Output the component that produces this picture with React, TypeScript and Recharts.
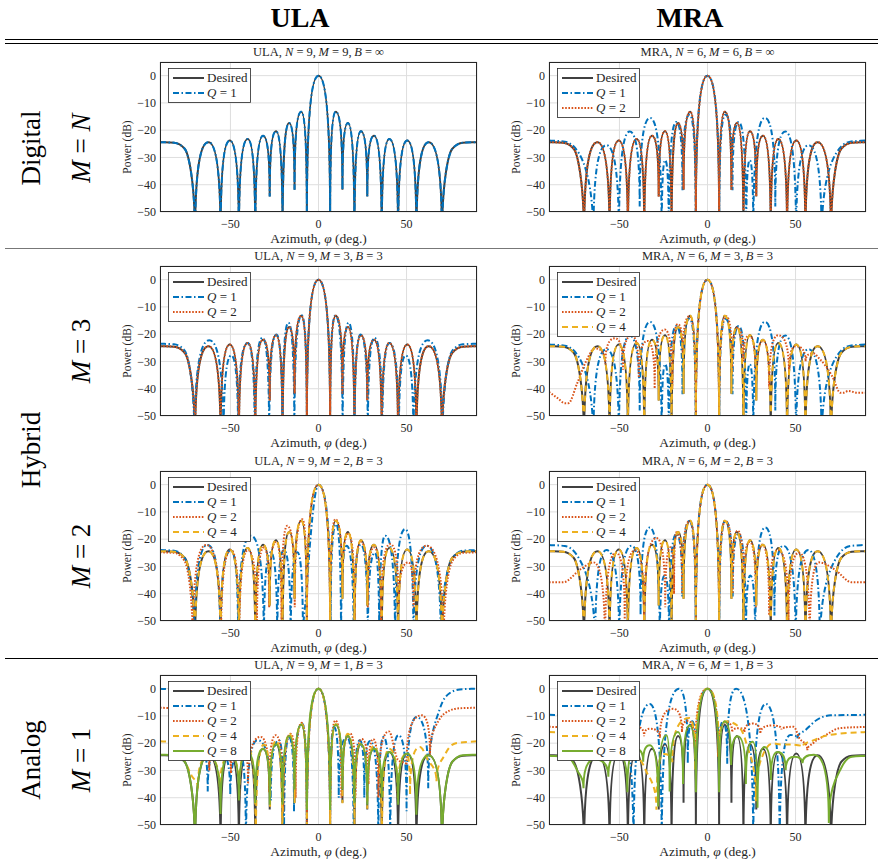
import React from "react";
import { LineChart, Line, XAxis, YAxis, CartesianGrid } from "recharts";

// beam patterns: azimuth (deg) / power (dB); nulls and lobe peaks
type Pt = [number, number];

const X_TICKS = [-50, 0, 50];
const Y_TICKS = [-50, -40, -30, -20, -10, 0];

const DESIRED: Pt[] = [
  [-90, -24.4], [-82, -24.6], [-76, -26.8], [-70.1, -60], [-62.5, -24.4], [-55.6, -60],
  [-50.4, -23.8], [-45.2, -60], [-40.2, -23.2], [-35.9, -60], [-31.5, -22], [-27.7, -44.3],
  [-24.1, -20.4], [-20.4, -60], [-16.7, -17.4], [-13.6, -41.8], [-9.8, -13.2], [-6.6, -52],
  [0, 0],
  [6.6, -52], [9.8, -13.2], [13.6, -41.8], [16.7, -17.4], [20.4, -60], [24.1, -20.4],
  [27.7, -44.3], [31.5, -22], [35.9, -60], [40.2, -23.2], [45.2, -60], [50.4, -23.8],
  [55.6, -60], [62.5, -24.4], [70.1, -60], [76, -26.8], [82, -24.6], [90, -24.4],
];

const MRA_M6_Q1: Pt[] = [
  [-90, -23.8], [-81, -24.2], [-73, -28.5], [-64.8, -60], [-57.4, -25.5], [-50.3, -60],
  [-44.2, -20.5], [-38.5, -48], [-32.6, -15.5], [-26, -60], [-24, -31], [-22, -60],
  [-17.7, -17], [-14.2, -42], [-10.2, -14.3], [-6.7, -52],
  [0, 0],
  [6.7, -52], [10.2, -14.3], [14.2, -42], [17.7, -17], [22, -60], [24, -31], [26, -60],
  [32.6, -15.5], [38.5, -48], [44.2, -20.5], [50.3, -60], [57.4, -25.5], [64.8, -60],
  [73, -28.5], [81, -24.2], [90, -23.8],
];

const ULA_M3_Q1: Pt[] = [
  [-90, -23.5], [-82, -23.7], [-76, -26], [-70.4, -60], [-62, -22.2], [-53.9, -60],
  [-49.5, -27.8], [-45.6, -60], [-40.3, -23.2], [-36.2, -60], [-31.8, -21.3], [-28, -60],
  [-23.9, -20.1], [-20.5, -60], [-17.1, -15.8], [-13.7, -60], [-9.6, -13.1], [-6.6, -52],
  [0, 0],
  [6.6, -52], [9.6, -13.1], [13.7, -60], [17.1, -15.8], [20.5, -60], [23.9, -20.1],
  [28, -60], [31.8, -21.3], [36.2, -60], [40.3, -23.2], [45.6, -60], [49.5, -27.8],
  [53.9, -60], [62, -22.2], [70.4, -60], [76, -26], [82, -23.7], [90, -23.5],
];

const MRA_M3_Q2: Pt[] = [
  [-90, -41.2], [-85, -43.5], [-81, -45.3], [-79, -45.3], [-74, -38], [-69, -30],
  [-64, -25.2], [-58, -31], [-52.5, -21.5], [-48, -33], [-43, -20.5], [-39, -36],
  [-34, -22.5], [-30, -40], [-24.3, -18.3], [-20, -40], [-16.8, -16.3], [-14, -29],
  [-10.2, -13.4], [-6.6, -52],
  [0, 0],
  [6.6, -52], [10.5, -13.4], [14, -34], [17, -17.7], [20.3, -30], [23.7, -20.5],
  [27.5, -40], [31.6, -22.5], [35, -40], [40.2, -20.4], [46.3, -34.7], [50.1, -24.4],
  [55.7, -30], [60, -27], [63.3, -28.8], [70.8, -35.4], [75.5, -41.5], [77, -41.5],
  [80, -40.8], [85, -41.5], [90, -41.5],
];

const ULA_M2_Q1: Pt[] = [
  [-90, -24], [-82, -24.2], [-76, -27], [-70.4, -60], [-63, -22.1], [-55.7, -60],
  [-49.7, -24], [-45.6, -60], [-38.4, -18.7], [-31, -60], [-27.1, -24.8], [-23.4, -60],
  [-19.6, -24], [-15.8, -60], [-12, -24.8], [-8.8, -60], [-6.9, -40],
  [0, 0],
  [6.9, -52], [10, -14.5], [12.8, -60], [16, -22.4], [20, -60], [24, -22], [28, -60],
  [32, -25], [34.5, -60], [37.9, -18.7], [43.5, -60], [49.2, -16.3], [53.9, -60],
  [61.4, -22.4], [69.5, -60], [76, -27], [82, -24.2], [90, -24],
];

const ULA_M2_Q2: Pt[] = [
  [-90, -24.8], [-82, -25], [-76, -28], [-71.4, -60], [-63.8, -22.1], [-55.4, -60],
  [-49.7, -24], [-45, -60], [-40, -24], [-35, -55], [-31, -23], [-28, -45], [-24, -21],
  [-21, -50], [-17.7, -15.1], [-13.5, -45], [-9.2, -12.7], [-6.6, -52],
  [0, 0],
  [6.6, -52], [9.6, -12.7], [13.5, -40], [17, -18], [20.5, -50], [24, -21], [28, -45],
  [31.5, -23], [35.5, -50], [40.7, -21.8], [45.5, -45], [51, -28.5], [54, -45],
  [61.4, -22.4], [71, -60], [76, -28], [82, -25], [90, -24.8],
];

const MRA_M2_Q1: Pt[] = [
  [-90, -22.1], [-81, -22.5], [-73, -27], [-63.8, -60], [-57.3, -24], [-50.1, -60],
  [-43.1, -22.4], [-38, -48], [-32.8, -15.7], [-27.1, -60], [-24.3, -33.3], [-21.8, -60],
  [-17.7, -18.1], [-14.3, -41], [-10.2, -13.3], [-6.7, -52],
  [0, 0],
  [6.7, -52], [10.2, -13.3], [14.3, -41], [17.7, -18.1], [21.8, -60], [24.3, -33.3],
  [27.1, -60], [32.8, -15.7], [38, -48], [43.1, -22.4], [50.1, -60], [57.3, -24],
  [63.8, -60], [73, -27], [81, -22.5], [90, -22.1],
];

const MRA_M2_Q2: Pt[] = [
  [-90, -35.8], [-82, -35.8], [-72, -31], [-64.8, -28.5], [-58.2, -60], [-52, -25],
  [-47, -50], [-41, -24], [-36, -50], [-29, -19.6], [-24, -45], [-21, -23], [-19, -40],
  [-17.7, -17.5], [-14.3, -40], [-10.2, -13.3], [-6.6, -52],
  [0, 0],
  [6.6, -52], [10.2, -13.3], [14.3, -40], [17.1, -16.9], [20.5, -40], [24, -21],
  [27.5, -45], [31, -22], [35, -48], [40, -24], [46, -50], [52, -25], [58, -60],
  [63.3, -28.5], [72, -31], [82, -35.8], [90, -35.8],
];

const ULA_M1_Q1: Pt[] = [
  [-90, 0], [-82, -0.5], [-75, -3.5], [-69, -12], [-62.9, -37.7], [-57, -22], [-50.1, -39],
  [-44.4, -24], [-41.2, -60], [-34.7, -18.9], [-27.1, -41], [-22.4, -18.9], [-19.6, -60],
  [-16.8, -17.7], [-13.9, -45], [-9.2, -12.9], [-6.6, -52],
  [0, 0],
  [6.6, -52], [8.7, -14], [11.5, -40], [16.2, -17.7], [20, -60], [23.4, -18.9], [26, -40],
  [29.4, -19.2], [34, -60], [36.9, -17.7], [40.7, -60], [45.4, -17.1], [50, -45],
  [55.7, -10.4], [62.3, -36.5], [68.9, -7.4], [74.6, -1.6], [80.2, -0.3], [90, 0],
];

const ULA_M1_Q2: Pt[] = [
  [-90, -7], [-84, -7.2], [-78, -9], [-72, -13], [-66, -20], [-62, -30], [-56, -19],
  [-49.7, -31], [-44, -19.5], [-40, -35], [-32.8, -17.7], [-28, -38], [-24.3, -17.1],
  [-20, -45], [-15.8, -16.5], [-13, -40], [-9.5, -12.5], [-6.6, -52],
  [0, 0],
  [6.6, -52], [9.6, -11.7], [13, -40], [18, -16.5], [21, -40], [24.5, -18.5], [28.4, -35],
  [31, -18.5], [34, -40], [40, -15.7], [45, -26], [50, -28], [58.6, -9.8], [63.3, -24.4],
  [68, -12], [74.6, -8], [80, -7.2], [90, -7],
];

const ULA_M1_Q4: Pt[] = [
  [-90, -19.3], [-84, -19.5], [-78, -24], [-72, -32], [-68.5, -36.5], [-63, -25],
  [-56, -38], [-50, -24.5], [-45, -40], [-40, -22], [-35.6, -60], [-31, -20.5],
  [-27.5, -44], [-24, -19], [-20.5, -60], [-16.5, -16.5], [-13.6, -42], [-9.6, -13],
  [-6.6, -52],
  [0, 0],
  [6.6, -52], [9.8, -13], [13.6, -42], [16.7, -16.5], [20.4, -55], [24, -20], [27.7, -44],
  [31.5, -21], [36, -60], [40, -22], [45, -40], [50, -24], [52, -39], [57.6, -21.4],
  [62, -26], [67, -34.1], [72, -24], [78, -20], [90, -19.3],
];

const ULA_M1_Q8: Pt[] = [
  [-90, -24.2], [-82, -24.4], [-76, -26.8], [-70.1, -60], [-62.5, -24.4], [-55.6, -46],
  [-50.4, -23.8], [-45.2, -41], [-40.2, -23.2], [-35.9, -42], [-31.5, -22], [-27.7, -42.6],
  [-24.1, -20.4], [-20.4, -42.6], [-16.7, -17.4], [-13.6, -37], [-9.8, -13.2], [-6.6, -44.5],
  [0, 0],
  [6.6, -44.5], [9.8, -13.2], [13.6, -37], [16.7, -17.4], [20.4, -42], [24.1, -20.4],
  [27.7, -42.6], [31.5, -22], [35.9, -40], [40.2, -23.2], [45.2, -42.6], [50.4, -23.8],
  [55.6, -46.2], [62.5, -24.4], [70.1, -60], [76, -26.8], [82, -24.4], [90, -24.2],
];

const MRA_M1_Q1: Pt[] = [
  [-90, -9.6], [-80, -9.8], [-70, -12], [-60, -14], [-52, -16.5], [-46.5, -17], [-42, -60],
  [-32.8, -5.6], [-26, -60], [-16.2, 0], [-11.2, -27.5], [-8.7, -12], [-6.5, -30],
  [0, 0],
  [6.5, -30], [8.7, -12], [11.2, -27.5], [16.2, 0], [26, -60], [33.1, -5.6], [41, -60],
  [47, -17], [51, -18.3], [56, -15], [62, -11.5], [70, -9.8], [90, -9.6],
];

const MRA_M1_Q2: Pt[] = [
  [-90, -14], [-75, -14.2], [-60, -14.5], [-46, -17.5], [-40.3, -14], [-36, -17.5],
  [-32.8, -14.7], [-27, -18], [-19.6, -7.4], [-14.5, -16], [-11, -11.8], [-7, -25],
  [0, 0],
  [6, -25], [10.5, -12.3], [14, -16], [18, -14.5], [21, -16], [25.6, -12.8], [30, -16.5],
  [37, -13.5], [42, -15], [49, -14], [52, -18], [56.7, -22.6], [60, -20], [67, -17.1],
  [75, -14.5], [90, -14],
];

const MRA_M1_Q4: Pt[] = [
  [-90, -15.9], [-75, -16.2], [-60, -17], [-45, -22], [-35, -30], [-29, -44.4], [-25, -24],
  [-20, -27], [-10.2, -10.8], [-7, -30],
  [0, 0],
  [6.5, -25], [10.5, -12], [18, -14.1], [22, -20], [27.5, -41.3], [31, -25], [37, -20.1],
  [42, -20.5], [48, -20.5], [54, -21.4], [60, -19], [65, -17.7], [75, -16.5], [90, -15.9],
];

const MRA_M1_Q8: Pt[] = [
  [-90, -24.6], [-80, -25], [-74, -30], [-70.4, -36.5], [-64, -26], [-56.3, -32.3],
  [-50.5, -24], [-45.5, -38], [-41, -22], [-36.5, -26.8], [-32.8, -20.8], [-28, -43.2],
  [-23.3, -17.1], [-21.5, -37.7], [-16.8, -15.9], [-13.9, -35], [-10.2, -13.5], [-6.6, -38],
  [0, 0],
  [6.6, -38], [9.6, -12], [13.4, -28], [17.1, -17.5], [21.8, -35], [25.6, -19.5],
  [28.4, -43.7], [32.2, -21.4], [36, -33.5], [39.7, -23.2], [44.4, -29.9], [49.2, -25],
  [53.9, -27.4], [60.5, -24.2], [68.9, -49.3], [76, -29], [82, -25], [90, -24.6],
];

const FONT = '"Liberation Serif", "Times New Roman", serif';
const INK = "#262626";

const STYLE: Record<string, { stroke: string; dash?: string }> = {
  Desired: { stroke: "#404040" },
  Q1: { stroke: "#0072BD", dash: "6 2.5 1.5 2.5" },
  Q2: { stroke: "#D95319", dash: "1.6 1.6" },
  Q4: { stroke: "#EDB120", dash: "6 4" },
  Q8: { stroke: "#77AC30" },
};

const PLOT_W = 317;
const PLOT_H = 150;
const PAD_L = 50;
const PAD_T = 4;
const PAD_B = 22;
const LW = 2;

const COLS = [160, 549];
const ROWS = [62, 266, 471, 675];

type PanelDef = {
  col: number;
  row: number;
  arr: string;
  n: number;
  m: string;
  b: string;
  lines: [string, Pt[]][];
};

const PANELS: PanelDef[] = [
  { col: 0, row: 0, arr: "ULA", n: 9, m: "9", b: "∞", lines: [["Desired", DESIRED], ["Q1", DESIRED]] },
  { col: 1, row: 0, arr: "MRA", n: 6, m: "6", b: "∞", lines: [["Desired", DESIRED], ["Q1", MRA_M6_Q1], ["Q2", DESIRED]] },
  { col: 0, row: 1, arr: "ULA", n: 9, m: "3", b: "3", lines: [["Desired", DESIRED], ["Q1", ULA_M3_Q1], ["Q2", DESIRED]] },
  { col: 1, row: 1, arr: "MRA", n: 6, m: "3", b: "3", lines: [["Desired", DESIRED], ["Q1", MRA_M6_Q1], ["Q2", MRA_M3_Q2], ["Q4", DESIRED]] },
  { col: 0, row: 2, arr: "ULA", n: 9, m: "2", b: "3", lines: [["Desired", DESIRED], ["Q1", ULA_M2_Q1], ["Q2", ULA_M2_Q2], ["Q4", DESIRED]] },
  { col: 1, row: 2, arr: "MRA", n: 6, m: "2", b: "3", lines: [["Desired", DESIRED], ["Q1", MRA_M2_Q1], ["Q2", MRA_M2_Q2], ["Q4", DESIRED]] },
  { col: 0, row: 3, arr: "ULA", n: 9, m: "1", b: "3", lines: [["Desired", DESIRED], ["Q1", ULA_M1_Q1], ["Q2", ULA_M1_Q2], ["Q4", ULA_M1_Q4], ["Q8", ULA_M1_Q8]] },
  { col: 1, row: 3, arr: "MRA", n: 6, m: "1", b: "3", lines: [["Desired", DESIRED], ["Q1", MRA_M1_Q1], ["Q2", MRA_M1_Q2], ["Q4", MRA_M1_Q4], ["Q8", MRA_M1_Q8]] },
];

// lobe-shaped curve: sharp cusp at nulls, flat top at peaks
function lobeCurve(context: any) {
  let pts: number[][] = [];
  return {
    areaStart() {},
    areaEnd() {},
    lineStart() {
      pts = [];
    },
    lineEnd() {
      const n = pts.length;
      if (!n) return;
      context.moveTo(pts[0][0], pts[0][1]);
      if (n === 1) return;
      const kind: string[] = [];
      const m: number[] = [];
      for (let i = 0; i < n; i++) {
        const [x, y] = pts[i];
        if (i === 0 || i === n - 1) {
          const j = i === 0 ? 1 : n - 2;
          kind.push("mid");
          m.push((pts[j][1] - y) / (pts[j][0] - x));
          continue;
        }
        const [x0, y0] = pts[i - 1];
        const [x2, y2] = pts[i + 1];
        if (y > y0 && y > y2) {
          kind.push("cusp");
          m.push(0);
        } else if (y < y0 && y < y2) {
          kind.push("peak");
          m.push(0);
        } else {
          const h0 = x - x0;
          const h1 = x2 - x;
          const s0 = (y - y0) / h0;
          const s1 = (y2 - y) / h1;
          kind.push("mid");
          if (s0 * s1 <= 0) m.push(0);
          else {
            const p = (s0 * h1 + s1 * h0) / (h0 + h1);
            m.push(Math.sign(s0) * 2 * Math.min(Math.abs(s0), Math.abs(s1), 0.5 * Math.abs(p)));
          }
        }
      }
      for (let i = 0; i < n - 1; i++) {
        const [ax, ay] = pts[i];
        const [bx, by] = pts[i + 1];
        const dx = bx - ax;
        const ka = kind[i];
        const kb = kind[i + 1];
        if (ka === "cusp" && kb === "cusp") {
          context.lineTo(bx, by);
        } else if (ka === "cusp") {
          const f = kb === "peak" ? 2 / 3 : 1 / 3;
          context.bezierCurveTo(ax, ay + (2 / 3) * (by - ay), bx - f * dx, by - f * dx * m[i + 1], bx, by);
        } else if (kb === "cusp") {
          const f = ka === "peak" ? 2 / 3 : 1 / 3;
          context.bezierCurveTo(ax + f * dx, ay + f * dx * m[i], bx, by + (2 / 3) * (ay - by), bx, by);
        } else {
          context.bezierCurveTo(ax + dx / 3, ay + (dx / 3) * m[i], bx - dx / 3, by - (dx / 3) * m[i + 1], bx, by);
        }
      }
    },
    point(x: number, y: number) {
      pts.push([+x, +y]);
    },
  };
}

const fmtTick = (v: number) => (v < 0 ? `\u2212${-v}` : `${v}`);

function qLabel(key: string) {
  if (key === "Desired") return <tspan>Desired</tspan>;
  return (
    <>
      <tspan fontStyle="italic">Q</tspan>
      <tspan> = {key.slice(1)}</tspan>
    </>
  );
}

function LegendBox({ keys }: { keys: string[] }) {
  const h = 5 + 15 * keys.length;
  return (
    <svg width={83} height={h} style={{ position: "absolute", left: 7, top: 5 }}>
      <rect x={0.5} y={0.5} width={82} height={h - 1} fill="#fff" stroke={INK} strokeWidth={0.8} />
      {keys.map((k, i) => {
        const y = 10 + 15 * i;
        const s = STYLE[k];
        return (
          <g key={k}>
            <line x1={5} x2={36} y1={y} y2={y} stroke={s.stroke} strokeWidth={LW} strokeDasharray={s.dash} />
            <text x={39} y={y + 4.4} fontSize={13} fontFamily={FONT} fill={INK}>
              {qLabel(k)}
            </text>
          </g>
        );
      })}
    </svg>
  );
}

function Panel({ p }: { p: PanelDef }) {
  const left = COLS[p.col];
  const top = ROWS[p.row];
  return (
    <>
      <div
        style={{
          position: "absolute",
          left: left + PLOT_W / 2,
          top: top - 10,
          transform: "translate(-50%, -50%)",
          whiteSpace: "nowrap",
          fontSize: 12.5,
          color: INK,
        }}
      >
        {p.arr}, <i>N</i> = {p.n},&thinsp;<i>M</i> = {p.m},&thinsp;<i>B</i> = {p.b}
      </div>
      <div style={{ position: "absolute", left: left - PAD_L, top: top - PAD_T }}>
        <LineChart
          width={PAD_L + PLOT_W + 4}
          height={PAD_T + PLOT_H + PAD_B}
          margin={{ top: PAD_T, right: 4, left: 0, bottom: 0 }}
        >
          <CartesianGrid stroke="#dedede" strokeWidth={1} />
          <XAxis
            dataKey="x"
            type="number"
            domain={[-90, 90]}
            ticks={X_TICKS}
            allowDataOverflow
            interval={0}
            height={PAD_B}
            axisLine={false}
            tickLine={false}
            tickSize={0}
            tickMargin={7}
            tickFormatter={fmtTick}
            tick={{ fill: INK, fontSize: 12, fontFamily: FONT }}
          />
          <YAxis
            type="number"
            domain={[-50, 5]}
            ticks={Y_TICKS}
            allowDataOverflow
            interval={0}
            width={PAD_L}
            axisLine={false}
            tickLine={false}
            tickSize={0}
            tickMargin={4}
            tickFormatter={fmtTick}
            tick={{ fill: INK, fontSize: 12, fontFamily: FONT }}
          />
          {p.lines.map(([k, d]) => (
            <Line
              key={k}
              data={d.map(([x, y]) => ({ x, y }))}
              dataKey="y"
              type={lobeCurve as any}
              stroke={STYLE[k].stroke}
              strokeWidth={LW}
              strokeDasharray={STYLE[k].dash}
              dot={false}
              activeDot={false}
              isAnimationActive={false}
            />
          ))}
        </LineChart>
      </div>
      <div
        style={{
          position: "absolute",
          left,
          top,
          width: PLOT_W,
          height: PLOT_H,
          boxSizing: "border-box",
          border: `1px solid ${INK}`,
          pointerEvents: "none",
        }}
      >
        <LegendBox keys={p.lines.map(([k]) => k)} />
      </div>
      <div
        style={{
          position: "absolute",
          left: left - 33,
          top: top + PLOT_H / 2 + 10,
          transform: "translate(-50%, -50%) rotate(-90deg)",
          whiteSpace: "nowrap",
          fontSize: 11.5,
          color: INK,
        }}
      >
        Power (dB)
      </div>
      <div
        style={{
          position: "absolute",
          left: left + PLOT_W / 2,
          top: top + PLOT_H + 27,
          transform: "translate(-50%, -50%)",
          whiteSpace: "nowrap",
          fontSize: 13.5,
          color: INK,
        }}
      >
        Azimuth, <i>φ</i> (deg.)
      </div>
    </>
  );
}

const ROW_LABELS: { x: number; y: number; node: React.ReactNode }[] = [
  { x: 31, y: 148, node: "Digital" },
  { x: 81, y: 148, node: <><i>M</i> = <i>N</i></> },
  { x: 31, y: 450, node: "Hybrid" },
  { x: 81, y: 351, node: <><i>M</i> = 3</> },
  { x: 81, y: 556, node: <><i>M</i> = 2</> },
  { x: 31, y: 760, node: "Analog" },
  { x: 81, y: 760, node: <><i>M</i> = 1</> },
];

export default function App() {
  return (
    <div
      style={{
        position: "absolute",
        left: 0,
        top: 0,
        width: 878,
        height: 866,
        background: "#fff",
        fontFamily: FONT,
        overflow: "hidden",
      }}
    >
      <div style={{ position: "absolute", left: 300, top: 17.5, transform: "translate(-50%, -50%)", fontSize: 28, fontWeight: "bold" }}>
        ULA
      </div>
      <div style={{ position: "absolute", left: 690, top: 17.5, transform: "translate(-50%, -50%)", fontSize: 28, fontWeight: "bold" }}>
        MRA
      </div>
      <div style={{ position: "absolute", left: 5, top: 38.5, width: 873, height: 1.2, background: "#000" }} />
      <div style={{ position: "absolute", left: 5, top: 43, width: 873, height: 1.2, background: "#000" }} />
      <div style={{ position: "absolute", left: 5, top: 247.5, width: 873, height: 1.2, background: "#777" }} />
      <div style={{ position: "absolute", left: 5, top: 657.5, width: 873, height: 1.2, background: "#000" }} />
      {ROW_LABELS.map((r, i) => (
        <div
          key={i}
          style={{
            position: "absolute",
            left: r.x,
            top: r.y,
            transform: "translate(-50%, -50%) rotate(-90deg)",
            whiteSpace: "nowrap",
            fontSize: 27,
          }}
        >
          {r.node}
        </div>
      ))}
      {PANELS.map((p, i) => (
        <Panel key={i} p={p} />
      ))}
    </div>
  );
}
